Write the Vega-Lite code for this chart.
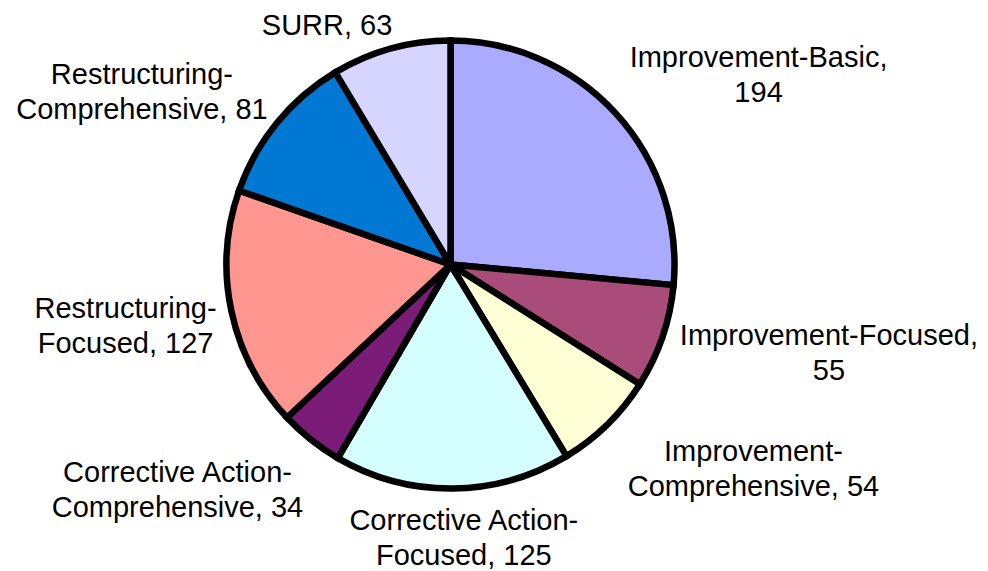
{
  "$schema": "https://vega.github.io/schema/vega-lite/v6.json",
  "width": 901,
  "height": 529,
  "autosize": {"type": "none"},
  "padding": {"left": 0, "top": 0, "right": 87, "bottom": 42},
  "background": "white",
  "config": {"view": {"stroke": null}},
  "data": {
    "values": [
      {"category": "Improvement-Basic", "value": 194, "label": "Improvement-Basic,\n194"},
      {"category": "Improvement-Focused", "value": 55, "label": "Improvement-Focused,\n55"},
      {"category": "Improvement-Comprehensive", "value": 54, "label": "Improvement-\nComprehensive, 54"},
      {"category": "Corrective Action-Focused", "value": 125, "label": "Corrective Action-\nFocused, 125"},
      {"category": "Corrective Action-Comprehensive", "value": 34, "label": "Corrective Action-\nComprehensive, 34"},
      {"category": "Restructuring-Focused", "value": 127, "label": "Restructuring-\nFocused, 127"},
      {"category": "Restructuring-Comprehensive", "value": 81, "label": "Restructuring-\nComprehensive, 81"},
      {"category": "SURR", "value": 63, "label": "SURR, 63"}
    ]
  },
  "transform": [{"window": [{"op": "row_number", "as": "idx"}]}],
  "encoding": {
    "theta": {"field": "value", "type": "quantitative", "stack": true},
    "order": {"field": "idx", "type": "quantitative"}
  },
  "layer": [
    {
      "mark": {"type": "arc", "outerRadius": 224, "stroke": "black", "strokeWidth": 6.5, "strokeJoin": "miter"},
      "encoding": {
        "color": {
          "field": "category",
          "type": "nominal",
          "legend": null,
          "scale": {
            "domain": ["Improvement-Basic", "Improvement-Focused", "Improvement-Comprehensive", "Corrective Action-Focused", "Corrective Action-Comprehensive", "Restructuring-Focused", "Restructuring-Comprehensive", "SURR"],
            "range": ["#AAAAFF", "#AA4C7A", "#FFFFD5", "#D5FFFF", "#7B1C78", "#FF9690", "#0078D4", "#D5D5FF"]
          }
        }
      }
    },
    {
      "mark": {"type": "text", "radius": 356, "dx": 45, "dy": 33.5, "align": "center", "baseline": "middle", "lineBreak": "\n", "lineHeight": 35, "font": "Liberation Sans", "fontSize": 29, "color": "black"},
      "encoding": {"text": {"condition": {"test": "datum.category === 'Improvement-Basic'", "field": "label", "type": "nominal"}, "value": ""}}
    },
    {
      "mark": {"type": "text", "radius": 386, "dx": 13, "dy": -52.5, "align": "center", "baseline": "middle", "lineBreak": "\n", "lineHeight": 35, "font": "Liberation Sans", "fontSize": 29, "color": "black"},
      "encoding": {"text": {"condition": {"test": "datum.category === 'Improvement-Focused'", "field": "label", "type": "nominal"}, "value": ""}}
    },
    {
      "mark": {"type": "text", "radius": 357, "dx": 53, "dy": -67.5, "align": "center", "baseline": "middle", "lineBreak": "\n", "lineHeight": 35, "font": "Liberation Sans", "fontSize": 29, "color": "black"},
      "encoding": {"text": {"condition": {"test": "datum.category === 'Improvement-Comprehensive'", "field": "label", "type": "nominal"}, "value": ""}}
    },
    {
      "mark": {"type": "text", "radius": 272, "dx": 11, "dy": -15.5, "align": "center", "baseline": "middle", "lineBreak": "\n", "lineHeight": 35, "font": "Liberation Sans", "fontSize": 29, "color": "black"},
      "encoding": {"text": {"condition": {"test": "datum.category === 'Corrective Action-Focused'", "field": "label", "type": "nominal"}, "value": ""}}
    },
    {
      "mark": {"type": "text", "radius": 345, "dx": -58, "dy": -61.5, "align": "center", "baseline": "middle", "lineBreak": "\n", "lineHeight": 35, "font": "Liberation Sans", "fontSize": 29, "color": "black"},
      "encoding": {"text": {"condition": {"test": "datum.category === 'Corrective Action-Comprehensive'", "field": "label", "type": "nominal"}, "value": ""}}
    },
    {
      "mark": {"type": "text", "radius": 330, "dx": -2, "dy": -23.5, "align": "center", "baseline": "middle", "lineBreak": "\n", "lineHeight": 35, "font": "Liberation Sans", "fontSize": 29, "color": "black"},
      "encoding": {"text": {"condition": {"test": "datum.category === 'Restructuring-Focused'", "field": "label", "type": "nominal"}, "value": ""}}
    },
    {
      "mark": {"type": "text", "radius": 349, "dx": -38, "dy": 30.5, "align": "center", "baseline": "middle", "lineBreak": "\n", "lineHeight": 35, "font": "Liberation Sans", "fontSize": 29, "color": "black"},
      "encoding": {"text": {"condition": {"test": "datum.category === 'Restructuring-Comprehensive'", "field": "label", "type": "nominal"}, "value": ""}}
    },
    {
      "mark": {"type": "text", "radius": 264, "dx": -53, "dy": 16, "align": "center", "baseline": "middle", "lineBreak": "\n", "lineHeight": 35, "font": "Liberation Sans", "fontSize": 29, "color": "black"},
      "encoding": {"text": {"condition": {"test": "datum.category === 'SURR'", "field": "label", "type": "nominal"}, "value": ""}}
    }
  ]
}
